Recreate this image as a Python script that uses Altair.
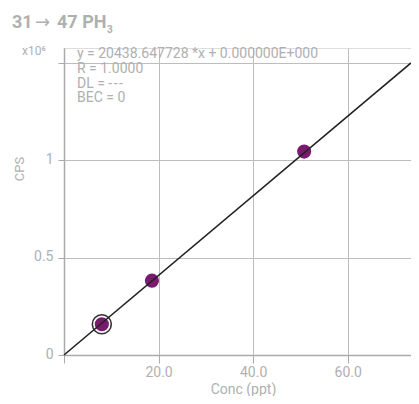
import altair as alt
import pandas as pd

# data
conc = [8.0, 18.6, 50.8]            # ppt
cps_m = [0.158, 0.382, 1.045]       # CPS in millions
highlight = [True, False, False]
slope = 20438.647728                # CPS per ppt
x_max = 73.4
y_max = 1.577
x_ticks = [0, 20, 40, 60]
y_ticks = [0, 0.5, 1, 1.5]
eq_lines = ["y = 20438.647728 *x + 0.000000E+000", "R = 1.0000",
            "DL = -\u200a-\u200a-", "BEC = 0"]

pts = pd.DataFrame({"conc": conc, "cps": cps_m, "hl": highlight})
fit = pd.DataFrame({"conc": [0.0, x_max], "cps": [0.0, x_max * slope / 1e6]})

FONT = "Roboto"
GRAY = "#b0b0b0"

xs = alt.Scale(domain=[0, x_max], nice=False, zero=True)
ys = alt.Scale(domain=[0, y_max], nice=False, zero=True)

xaxis = alt.Axis(values=x_ticks, labelExpr="datum.value == 0 ? '' : format(datum.value, '.1f')",
                 title="Conc (ppt)", tickSize=8, labelPadding=13, labelBaseline="alphabetic",
                 titleY=38, titleX=179, titleBaseline="alphabetic",
                 labelFontSize=14, titleFontSize=14, titleFontWeight="normal",
                 labelColor=GRAY, titleColor=GRAY, domainColor="#aaaaaa", domainWidth=1.5,
                 tickColor="#aaaaaa", gridColor="#bdbdbd", labelFont=FONT, titleFont=FONT)
yaxis = alt.Axis(values=y_ticks, labelExpr="datum.value == 1.5 ? '' : format(datum.value, '')",
                 title=None, tickSize=6, labelPadding=5, labelOffset=3, labelBaseline="alphabetic",
                 labelFontSize=14, labelColor=GRAY, domainColor="#aaaaaa", domainWidth=1.5,
                 tickColor="#aaaaaa", gridColor="#bdbdbd", labelFont=FONT)

base = alt.Chart(pts)

ring = base.transform_filter("datum.hl").mark_point(
    shape="circle", filled=True, fill="white", stroke="#333333", strokeWidth=1.6, size=360, opacity=1
).encode(x=alt.X("conc:Q", scale=xs, axis=xaxis), y=alt.Y("cps:Q", scale=ys, axis=yaxis))

dots = base.mark_circle(color="#7a1a6f", size=200, opacity=1).encode(
    x=alt.X("conc:Q", scale=xs), y=alt.Y("cps:Q", scale=ys))

line = alt.Chart(fit).mark_line(color="#222222", strokeWidth=1.6, clip=False).encode(
    x=alt.X("conc:Q", scale=xs), y=alt.Y("cps:Q", scale=ys))

def txt(text, x, y, size, weight="normal", angle=0, align="left", baseline="alphabetic",
        lh=None, font=FONT):
    kw = dict(font=font, fontSize=size, fontWeight=weight, color=GRAY, align=align,
              baseline=baseline, angle=angle, text=text)
    if lh:
        kw["lineHeight"] = lh
    return alt.Chart(pd.DataFrame({"a": [0]})).mark_text(**kw).encode(
        x=alt.value(x), y=alt.value(y))

t1 = txt("31", -52, -20, 18, weight="bold")
t2 = txt("→", -29, -20, 18, font="DejaVu Sans")
t3 = txt("47 PH", -7, -20, 18, weight="bold")
sub = txt("3", 43, -15, 10, weight="bold")
mult = txt("x10⁶", -42, 7, 12)
eq = txt(eq_lines, 13, 10, 14, lh=14.8)
cps_title = txt("CPS", -44, 121, 13, angle=270, align="center", baseline="middle")

chart = alt.layer(ring, dots, line, t1, t2, t3, sub, mult, eq, cps_title).properties(
    width=347, height=307, autosize=alt.AutoSizeParams(type="none"),
    padding={"left": 56, "top": 40, "right": 0, "bottom": 41}
).configure_view(stroke=None).configure(background="white")

chart.save("out.html", embed_options={"renderer": "svg", "actions": False})
